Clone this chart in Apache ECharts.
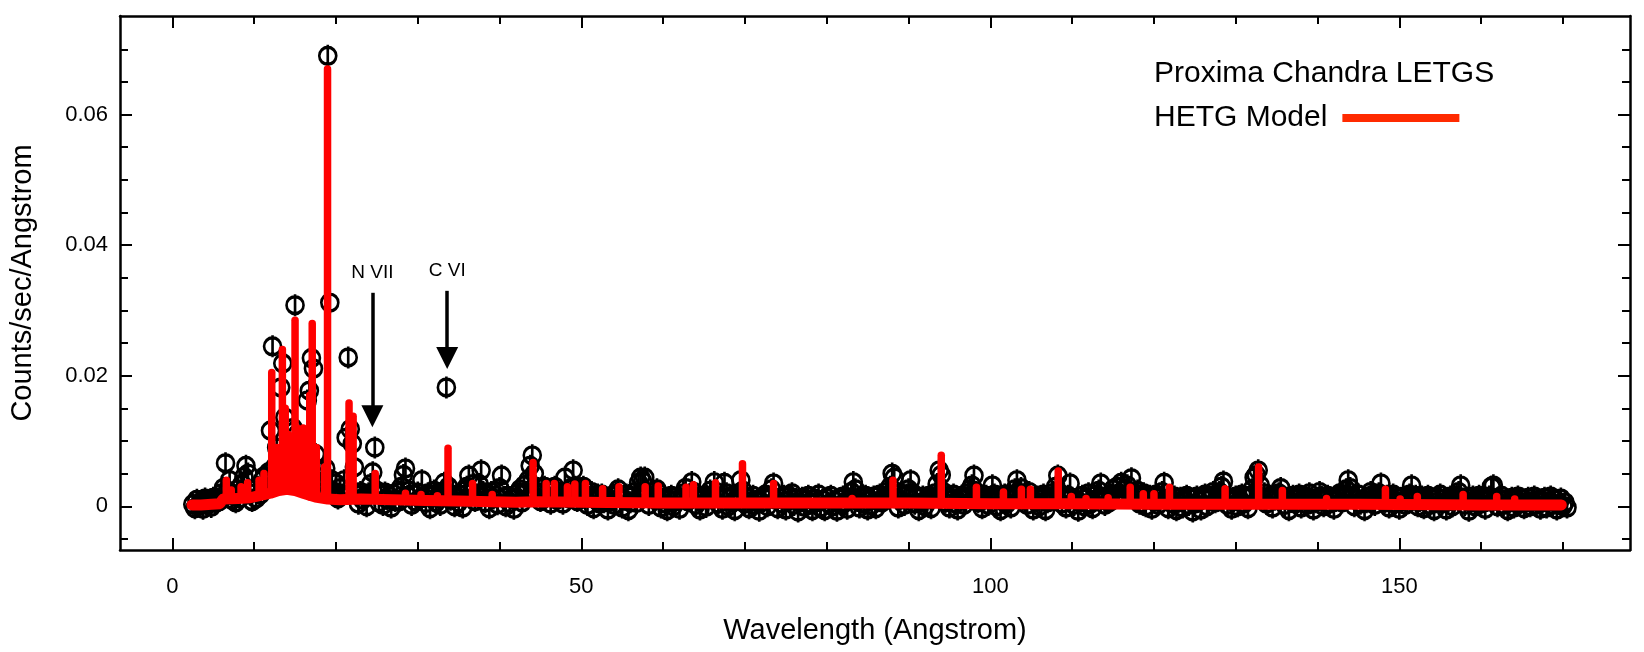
<!DOCTYPE html>
<html>
<head>
<meta charset="utf-8">
<title>Proxima Chandra LETGS</title>
<script src="https://cdn.jsdelivr.net/npm/echarts@6/dist/echarts.min.js"></script>
<style>
  html, body { margin: 0; padding: 0; background: #fff; }
  #main { width: 1644px; height: 652px; }
</style>
</head>
<body>
<div id="main"></div>
<script>
// LETGS spectrum, counts/sec/Angstrom, 0.25 A bins from 2.5 A
var binStart = 2.5;
var binWidth = 0.25;
var letgsFlux = [
  .0003,-.0003,.001,.0001,.0007,-.0004,.0012,.0002,.0008,-.0001,.0013,.0005,.0011,.0008,.002,.0028,.0066,.0024,.004,.001,
  .0016,.0006,.0026,.0012,.0034,.0045,.0062,.005,.002,.0008,.0026,.0012,.003,.0018,.004,.0046,.0028,.0052,.0116,.0245,
  .006,.009,.0048,.0182,.0219,.0136,.007,.0095,.0045,.012,.0308,.011,.0052,.0075,.01,.006,.0162,.0177,.0227,.0211,
  .008,.0045,.003,.0055,.0038,.0058,.069,.0312,.004,.0022,.0035,.0012,.0028,.0018,.004,.0105,.0228,.0118,.0096,.006,
  .0018,.0004,.0022,.001,.0015,0,.002,.0034,.0052,.009,.0024,.0006,.0018,.0002,.0021,.0011,.0016,-.0002,.0019,.0008,
  .0022,.0008,.003,.0048,.0058,.0016,.0024,.0002,.0019,.0007,.0021,.0012,.004,.0014,.0005,.002,-.0003,.0016,.0024,.0006,
  .0014,.0002,.0022,.0036,.0182,.003,.001,.0018,0,.0014,.0006,.0018,-.0002,.0024,.003,.0047,.002,.0034,.0008,.0018,
  .0034,.0055,.0022,.0006,.0018,-.0003,.0022,.0012,.0017,.0003,.0028,.0047,.0014,0,.0016,.0005,.0012,-.0004,.0014,.002,
  .0026,.0006,.0032,.0022,.004,.0062,.0078,.005,.002,.0028,.0008,.0022,.003,.0014,.0026,.0004,.0022,.003,.001,.0018,
  .0022,.0004,.0044,.002,.0012,.0028,.0055,.003,.0008,.0022,.0016,.003,.0024,.0002,.0014,.0022,-.0003,.001,.0018,.0004,
  .0018,.0006,.0012,-.0005,.0008,.0016,.0002,.002,.0026,.0014,-.0002,.001,.0018,-.0006,.0006,.0015,.0022,.0005,.0036,.0044,
  .0038,.0044,.0018,.0002,.0014,.0022,.001,.0026,.002,-.0002,.0012,.0004,-.0006,.001,.0016,0,.0008,.0015,-.0004,.0012,
  .002,.0028,.0008,.0018,.0037,.0022,.0002,.0013,-.0005,.001,.0016,-.0001,.0012,.0024,.0016,.0037,.0022,.0004,.0013,-.0004,
  .0036,.002,0,.0015,.0006,-.0006,.0012,.002,.004,.0024,.0004,.0013,-.0003,.0008,.0016,.0002,.001,-.0007,.0006,.0013,
  .0018,0,.0012,.0026,.0035,.001,-.0003,.0013,.0004,.0016,-.0005,.0008,.0015,.002,.0002,.0011,-.0008,.0006,.0013,-.0001,
  .001,.0016,.0004,-.0006,.0012,.0006,.0018,-.0002,.001,-.0006,.0013,.0004,.0016,0,.0008,-.0007,.0012,.0002,.0015,.0006,
  -.0004,.0012,.0022,.0037,.0026,.0008,-.0002,.0013,.0004,.0016,-.0005,.001,.0002,.0015,-.0003,.0008,.0018,.0006,.0012,.0022,
  .0016,.003,.005,.0044,.0012,-.0002,.001,.0016,.0002,.0018,.0026,.004,.002,.0004,.0013,-.0006,.0006,.0015,0,.001,
  .0016,-.0003,.0012,.002,.0034,.0055,.0048,.0022,.0006,.0015,-.0002,.001,.0018,.0004,-.0005,.0012,.0016,.0002,.0013,.002,
  .0026,.0032,.0047,.0022,.0006,.0013,-.0003,.001,.0016,.0002,.0012,.0032,.0018,0,.0015,-.0006,.0008,.0018,.0004,.0012,
  -.0002,.0016,.0026,.004,.002,.0028,.001,.0018,.0002,.0022,.0012,-.0005,.0008,.0015,0,.0012,.0018,-.0006,.0006,.0013,
  .002,.0012,.003,.0047,.002,.0004,.0015,-.0002,.0016,.0035,.0013,.0002,.001,-.0007,.0006,.0016,0,.0012,.002,.0004,
  -.0003,.001,.0018,.0024,.0035,.0013,.0002,.0015,.0006,.0018,.0026,.0012,.003,.002,.0036,.0016,.0026,.0032,.002,.0043,
  .0018,.001,.0024,.0004,.0015,.002,0,.0012,.0016,-.0004,.0008,.0018,.0002,.0013,.0022,.0036,.001,-.0003,.0012,.0004,
  .0015,-.0006,.0006,.0013,-.0002,.001,.0016,.0002,.0012,-.0008,.0004,.0015,.0008,-.0005,.0012,.0018,0,.001,.0015,.0022,
  .0006,.0016,.0022,.003,.0038,.0015,.0002,.0012,-.0004,.0008,.0015,0,.001,.0018,.0004,.0013,-.0003,.0016,.0026,.0044,
  .0048,.0055,.0032,.0013,.002,.0004,.0012,.0016,-.0002,.001,.0015,.002,.0028,.0012,.0002,.0013,-.0006,.0008,.0016,.0004,
  .0012,.0018,-.0002,.001,.0015,.0002,.002,.0012,-.0005,.0006,.0013,.0022,.0015,0,.001,.0016,.0004,.0012,-.0004,.0008,
  .0015,.002,.0006,.0016,.0026,.004,.0028,.0013,0,.0012,.0018,.0004,.001,-.0006,.0006,.0015,.0022,.0012,.0002,.0016,
  .002,.0035,.0015,.0006,.0016,-.0002,.0012,.0018,.0004,.0013,-.0004,.0008,.0015,.0002,.0012,.0018,.0032,.001,.0016,0,
  .0008,.0015,-.0003,.001,.0016,.0002,.0012,-.0006,.0006,.0013,.0018,.0004,.0012,-.0005,.0008,.0015,0,.001,.0016,.0022,
  .0032,.0012,.0002,.0013,-.0007,.0006,.0015,0,.001,.0016,.0004,.0012,-.0004,.0008,.0015,.003,.0032,.001,0,.0012,
  .0016,.0002,.001,-.0006,.0006,.0013,-.0002,.001,.0015,.0004,.0012,-.0003,.0006,.0013,0,.0008,.0015,.0002,.001,-.0004,
  .0006,.0013,-.0002,.0008,.0015,.0002,.001,-.0005,.0004,.0012,0,.0006,-.0002
];

// HETG model continuum
var contWave = [2.4, 3.5, 4.8, 5.8, 6.2, 8.0, 9.5, 10.5, 12.0, 13.0, 14.0, 15.0, 16.0, 17.5, 19.0, 20.5, 23.0, 27.0, 31.0, 35.0,
  39.0, 42.0, 44.5, 50.0, 60.0, 70.0, 80.0, 90.0, 100.0, 110.0, 120.0, 130.0, 145.0, 160.0, 169.8];
var contFlux = [.0002, .0002, .0003, .0004, .0011, .0012, .0013, .0016, .002, .0024, .0026, .0024, .002, .0014, .0011, .001, .0011, .001, .0009, .0008,
  .0007, .0006, .0007, .0006, .0005, .0005, .0005, .0005, .0004, .0004, .0003, .0003, .0003, .0002, .0002];

// HETG model emission lines
var lineWave = [6.6, 7.2, 8.4, 9.2, 10.6, 11.2, 12.15, 12.8, 13.45, 13.8, 14.2, 15.0, 15.25, 16.0, 16.8, 17.1, 17.6, 18.6, 18.97, 21.6,
  22.1, 24.8, 28.5, 30.4, 32.4, 33.7, 36.7, 39.1, 44.1, 45.7, 46.7, 48.3, 49.2, 50.5, 52.6, 54.6, 57.8, 59.4, 62.8, 63.7,
  66.4, 69.7, 73.5, 83.1, 88.1, 94.0, 98.3, 101.6, 103.8, 104.9, 108.3, 109.9, 111.7, 114.4, 117.1, 118.7, 120.0, 121.9, 128.7, 132.8,
  135.7, 141.1, 148.3, 150.1, 152.2, 157.8, 161.9, 164.1];
var linePeak = [.004, .0025, .003, .0036, .004, .005, .0205, .009, .024, .015, .011, .0285, .012, .012, .017, .028, .009, .006, .067, .0158,
  .0138, .005, .002, .0018, .0016, .0089, .0035, .0018, .0067, .0035, .0035, .003, .0034, .0035, .0027, .003, .003, .0031, .0029, .0033,
  .0036, .0065, .0035, .0012, .004, .0078, .0029, .0022, .0026, .0026, .0054, .0015, .0012, .0013, .0029, .0019, .0019, .0029, .0027, .006,
  .0024, .0012, .0026, .0011, .0015, .0018, .0015, .0011];

// line identifications
var annName = ['N VII', 'C VI'];
var annWave = [24.45, 33.6];
var annTop = [0.0327, 0.0330];
var annTip = [0.0138, 0.0227];

// ticks
var xMajor = [0, 50, 100, 150];
var xMinor = [10, 20, 30, 40, 60, 70, 80, 90, 110, 120, 130, 140, 160, 170];
var yMajor = [0, 0.02, 0.04, 0.06];
var yMinor = [-0.005, 0.005, 0.01, 0.015, 0.025, 0.03, 0.035, 0.045, 0.05, 0.055, 0.065, 0.07];

var X_MIN = -6.4, X_MAX = 178.2;
var Y_MIN = -0.0067, Y_MAX = 0.0751;
var modelRed = '#ff0000';
var font = '"Liberation Sans", Arial, Helvetica, sans-serif';

function contNear(w) {
  var best = 0;
  for (var i = 1; i < contWave.length; i++) {
    if (Math.abs(contWave[i] - w) < Math.abs(contWave[best] - w)) best = i;
  }
  return contFlux[best];
}

var letgsData = letgsFlux.map(function (f, i) { return [binStart + i * binWidth, f]; });
var contData = contWave.map(function (w, i) { return [w, contFlux[i]]; });
var spikeData = lineWave.map(function (w, i) { return [w, contNear(w), linePeak[i]]; });
var annData = annName.map(function (n, i) {
  return [{ name: n, coord: [annWave[i], annTop[i]] }, { coord: [annWave[i], annTip[i]] }];
});

function tickAxis(kind, pos, ticks, len, showLine, labels, extra) {
  var ax = {
    type: 'value', position: pos,
    min: kind === 'x' ? X_MIN : Y_MIN,
    max: kind === 'x' ? X_MAX : Y_MAX,
    axisLine: { show: showLine, onZero: false, lineStyle: { color: '#000', width: 2.5 } },
    axisTick: { show: true, inside: true, length: len, customValues: ticks, lineStyle: { color: '#000', width: 2 } },
    axisLabel: { show: false },
    splitLine: { show: false },
    minorTick: { show: false }
  };
  if (labels) {
    ax.axisLabel = { show: true, customValues: ticks, fontSize: 22, color: '#000', fontFamily: font };
  }
  return Object.assign(ax, extra || {});
}

var chart = echarts.init(document.getElementById('main'));

var xBottom = tickAxis('x', 'bottom', xMajor, 12, true, true, {
  name: 'Wavelength (Angstrom)', nameLocation: 'middle', nameGap: 66,
  nameTextStyle: { fontSize: 29, color: '#000', fontFamily: font }
});
xBottom.axisLabel.margin = 26;

var yLeft = tickAxis('y', 'left', yMajor, 12, true, true, {
  name: 'Counts/sec/Angstrom', nameLocation: 'middle', nameGap: 83, nameRotate: 90,
  nameTextStyle: { fontSize: 29, color: '#000', fontFamily: font }
});
yLeft.axisLabel.margin = 12;
yLeft.axisLabel.formatter = function (v) { return v === 0 ? '0' : v.toFixed(2); };

chart.setOption({
  animation: false,
  textStyle: { fontFamily: font },
  grid: { left: 120, right: 14, top: 16, bottom: 102, containLabel: false, outerBoundsMode: 'none' },
  title: {
    text: 'Proxima Chandra LETGS',
    left: 1154, top: 57, padding: 0,
    textStyle: { fontSize: 30, fontWeight: 'normal', color: '#000', lineHeight: 34, fontFamily: font }
  },
  legend: {
    left: 1154, top: 101, align: 'right',
    itemWidth: 117, itemHeight: 8, padding: 0,
    selectedMode: false,
    textStyle: { fontSize: 30, color: '#000', lineHeight: 34, padding: [0, 10, 0, 0], fontFamily: font },
    data: [
      { name: 'HETG Model', icon: 'rect', itemStyle: { color: '#ff2a00', opacity: 1 } }
    ]
  },
  xAxis: [
    xBottom,
    tickAxis('x', 'bottom', xMinor, 8, false, false),
    tickAxis('x', 'top', xMajor, 12, true, false),
    tickAxis('x', 'top', xMinor, 8, false, false)
  ],
  yAxis: [
    yLeft,
    tickAxis('y', 'left', yMinor, 8, false, false),
    tickAxis('y', 'right', yMajor, 12, true, false),
    tickAxis('y', 'right', yMinor, 8, false, false)
  ],
  series: [
    {
      name: 'Proxima Chandra LETGS',
      type: 'scatter',
      silent: true,
      clip: true,
      data: letgsData,
      symbol: 'path://M0,-11L0,11M8.5,0A8.5,8.5,0,1,1,-8.5,0A8.5,8.5,0,1,1,8.5,0Z',
      symbolSize: [17, 22],
      itemStyle: { color: 'none', borderColor: '#000', borderWidth: 3, opacity: 1 },
      z: 2,
      markLine: {
        silent: true,
        symbol: ['none', 'triangle'],
        symbolSize: 22,
        lineStyle: { color: '#000', width: 3.5, type: 'solid' },
        itemStyle: { color: '#000' },
        label: { show: true, position: 'start', formatter: '{b}', color: '#000', fontSize: 19, distance: 11, fontFamily: font },
        emphasis: { disabled: true },
        data: annData
      }
    },
    {
      name: 'HETG Model',
      type: 'line',
      silent: true,
      data: contData,
      showSymbol: false,
      lineStyle: { color: modelRed, width: 11, cap: 'round', join: 'round' },
      itemStyle: { color: modelRed },
      z: 3
    },
    {
      name: 'HETG Model',
      type: 'custom',
      silent: true,
      data: spikeData,
      encode: { x: 0, y: [1, 2] },
      z: 3,
      renderItem: function (params, api) {
        var w = api.value(0);
        var p0 = api.coord([w, api.value(1)]);
        var p1 = api.coord([w, api.value(2)]);
        return {
          type: 'line',
          shape: { x1: p0[0], y1: p0[1], x2: p1[0], y2: p1[1] },
          style: { stroke: modelRed, lineWidth: 7.5, lineCap: 'round' }
        };
      }
    }
  ]
});
</script>
</body>
</html>
